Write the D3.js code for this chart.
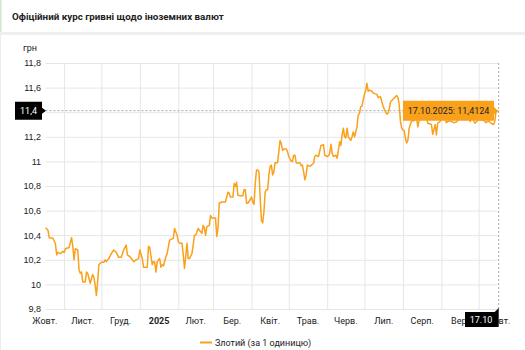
<!DOCTYPE html>
<meta charset="utf-8">
<style>
	body{ margin:0; background:#fff; }
	svg{ display:block; font-family: Roboto, "Noto Sans", sans-serif; }
	.grid line{ stroke:#e6e6e6; stroke-width:1; }
	.grid path{ display:none; }
	.ylab text, .xlab{ font-size:9px; fill:#222; }
</style>
<body>
<svg width="525" height="350" id="chart"></svg>
<script src="https://cdn.jsdelivr.net/npm/d3@7"></script>
<script>
	/* days since 17.10.2024 and official PLN rate */
	var dayOffsets = [0,2,3,6,8,9,10,12,14,15,16,19,21,22,23,24,26,27,28,29,30,32,33,34,36,38,39,40,41,42,
		43,45,47,48,49,51,53,55,57,58,59,61,62,63,65,66,68,70,71,73,75,76,78,79,82,83,84,86,87,88,
		89,90,92,93,94,95,97,98,100,102,103,104,106,107,108,110,111,112,113,114,115,116,118,119,120,121,123,124,126,127,
		128,129,130,132,133,134,137,138,139,140,142,145,146,147,148,149,151,152,153,154,155,157,159,160,161,162,163,165,166,167,
		168,169,170,171,172,173,174,175,176,177,178,179,180,181,182,183,184,185,187,188,189,190,191,192,194,195,196,198,199,200,
		201,202,203,205,206,207,208,209,210,211,213,216,217,218,220,222,224,225,227,228,229,230,231,232,234,235,237,238,239,240,
		241,242,243,244,246,247,248,249,250,251,252,253,254,255,256,257,258,259,260,261,263,264,267,268,270,271,272,274,275,276,
		277,278,280,282,283,284,285,286,287,288,289,290,291,292,293,294,295,297,299,300,301,303,305,307,308,311,312,314,315,316,
		318,320,322,323,325,327,329,331,333,335,338,341,342,344,346,348,349,353,355,357,359,361,362,363,365];
	var rates = [10.46,10.44,10.38,10.375,10.33,10.24,10.26,10.25,10.27,10.26,10.29,10.30,10.38,10.31,10.20,10.29,10.28,10.12,10.09,10.10,10.02,10.02,10.10,10.09,10.01,10.08,10.06,9.995,9.91,10.02,
		10.16,10.18,10.18,10.20,10.185,10.21,10.25,10.28,10.26,10.24,10.22,10.22,10.25,10.28,10.32,10.24,10.225,10.20,10.185,10.20,10.21,10.28,10.21,10.14,10.14,10.31,10.30,10.16,10.185,10.18,
		10.10,10.185,10.21,10.14,10.16,10.15,10.225,10.25,10.36,10.37,10.375,10.455,10.40,10.35,10.335,10.335,10.24,10.13,10.225,10.335,10.21,10.21,10.25,10.32,10.40,10.40,10.455,10.44,10.415,10.48,
		10.46,10.40,10.47,10.48,10.56,10.54,10.54,10.39,10.455,10.66,10.67,10.67,10.71,10.75,10.74,10.71,10.71,10.82,10.795,10.83,10.725,10.72,10.72,10.77,10.77,10.66,10.66,10.69,10.71,10.67,
		10.65,10.82,10.93,10.93,10.915,10.70,10.52,10.50,10.59,10.75,10.77,10.77,10.89,10.96,10.97,10.89,10.915,10.99,10.99,11.08,11.17,11.145,11.09,11.10,11.10,11.08,11.04,11.00,11.00,11.05,
		11.05,10.99,10.985,10.99,10.965,10.97,10.915,10.85,10.89,10.97,10.96,10.985,11.04,11.05,11.04,11.13,11.135,11.05,11.04,11.045,11.065,11.14,11.065,11.04,11.05,11.025,11.16,11.13,11.215,11.27,
		11.20,11.19,11.27,11.20,11.17,11.20,11.24,11.20,11.24,11.28,11.38,11.39,11.445,11.45,11.50,11.545,11.58,11.635,11.57,11.58,11.57,11.555,11.545,11.52,11.525,11.485,11.45,11.40,11.385,11.39,
		11.43,11.485,11.505,11.525,11.535,11.52,11.46,11.325,11.27,11.255,11.25,11.19,11.15,11.17,11.27,11.30,11.33,11.33,11.35,11.28,11.33,11.37,11.39,11.36,11.31,11.30,11.22,11.30,11.215,11.31,
		11.325,11.36,11.34,11.315,11.33,11.325,11.315,11.32,11.34,11.37,11.36,11.38,11.325,11.35,11.31,11.33,11.34,11.335,11.315,11.33,11.31,11.30,11.325,11.405,11.4124];

	var yTicks = [9.8,10,10.2,10.4,10.6,10.8,11,11.2,11.4,11.6,11.8];
	var monthLabels = ["Жовт.","Лист.","Груд.","2025","Лют.","Бер.","Квіт.","Трав.","Черв.","Лип.","Серп.","Вер.","Жовт."];
	var startDate = new Date(2024, 9, 17), endDate = new Date(2025, 9, 17);
	var seriesName = "Злотий (за 1 одиницю)";
	var title = "Офіційний курс гривні щодо іноземних валют";

	var lineColor = "#f9a11b";
	var plotL = 45.5, plotR = 498.5, plotT = 63, plotB = 309;

	var svg = d3.select("#chart");
	var uk = d3.formatLocale({decimal:",", thousands:" ", grouping:[3], currency:["",""]});
	var fmtTick = uk.format("~g"), fmtVal = uk.format(".4f");

	var x = d3.scaleTime().domain([startDate, endDate]).range([plotL, plotR]);
	var y = d3.scaleLinear().domain([9.8, 11.8]).range([plotB, plotT]);

	var data = dayOffsets.map(function(d, i){ return {date: d3.timeDay.offset(startDate, d), v: rates[i]}; });

	/* header */
	svg.append("rect").attr("x",0).attr("y",0).attr("width",525).attr("height",350).attr("fill","#fff");
	svg.append("rect").attr("x",0).attr("y",32).attr("width",525).attr("height",3).attr("fill","#efefef");
	svg.append("rect").attr("x",0).attr("y",0).attr("width",1.5).attr("height",32).attr("fill","#cfe6d2");
	svg.append("rect").attr("x",0).attr("y",35).attr("width",1).attr("height",315).attr("fill","#ececec");
	svg.append("text").attr("x",12).attr("y",20).attr("font-size","9.8px").attr("font-weight","bold")
		.attr("fill","#222").text(title);

	/* grid */
	svg.append("g").attr("class","grid").attr("transform","translate("+plotL+",0)")
		.call(d3.axisLeft(y).tickValues(yTicks).tickSize(-(plotR-plotL+0.5)).tickFormat(""));
	var months = d3.timeMonth.range(d3.timeMonth.ceil(startDate), endDate);
	svg.append("g").attr("class","grid").attr("transform","translate(0,"+plotB+")")
		.call(d3.axisBottom(x).tickValues(months).tickSize(-(plotB-plotT)).tickFormat(""));

	/* y labels */
	svg.append("g").attr("class","ylab").attr("transform","translate(41,0)")
		.call(d3.axisLeft(y).tickValues(yTicks).tickSize(0).tickPadding(0).tickFormat(fmtTick))
		.call(function(g){ g.select(".domain").remove(); g.selectAll("text").attr("font-family",null).attr("font-size",null); });
	svg.append("text").attr("class","xlab").attr("x",23).attr("y",51).text("грн");

	/* x labels centred in month cells */
	var cells = d3.timeMonth.range(d3.timeMonth.floor(startDate), endDate);
	svg.selectAll("text.mlab").data(cells).enter().append("text")
		.attr("class","xlab mlab")
		.attr("x", function(d){ return (x(d) + x(d3.timeMonth.offset(d,1)))/2; })
		.attr("y", 324).attr("text-anchor","middle")
		.attr("font-weight", function(d, i){ return monthLabels[i] === "2025" ? "bold" : null; })
		.text(function(d, i){ return monthLabels[i]; });

	/* line */
	svg.append("path").datum(data)
		.attr("fill","none").attr("stroke",lineColor).attr("stroke-width",1.5).attr("stroke-linejoin","round")
		.attr("d", d3.line().x(function(d){ return x(d.date); }).y(function(d){ return y(d.v); }));

	/* cursor */
	var last = data[data.length-1];
	var cx = x(last.date) + 0.2, cy = y(last.v);
	svg.append("line").attr("x1",plotL).attr("x2",plotR).attr("y1",cy).attr("y2",cy)
		.attr("stroke","#aaa").attr("stroke-dasharray","2,2");
	svg.append("line").attr("x1",cx).attr("x2",cx).attr("y1",plotT).attr("y2",plotB+2)
		.attr("stroke","#aaa").attr("stroke-dasharray","2,2");

	/* y cursor label */
	svg.append("path").attr("fill","#000")
		.attr("d","M15,"+(cy-9)+"H42V"+(cy-3)+"L46,"+cy+"L42,"+(cy+3)+"V"+(cy+9)+"H15Z");
	svg.append("text").attr("x",28.5).attr("y",cy+3.5).attr("text-anchor","middle")
		.attr("font-size","9px").attr("fill","#fff").text(fmtTick(Math.round(last.v*10)/10));

	/* x cursor label */
	svg.append("path").attr("fill","#000")
		.attr("d","M465,312H"+(cx-4)+"L"+cx+",308V327H465Z");
	svg.append("text").attr("x",481).attr("y",323).attr("text-anchor","middle")
		.attr("font-size","9px").attr("fill","#fff").text(d3.timeFormat("%d.%m")(last.date));

	/* value tooltip */
	svg.append("path").attr("fill",lineColor)
		.attr("d","M403,"+(cy-10)+"H494V"+(cy-4)+"L"+(cx-1)+","+cy+"L494,"+(cy+4)+"V"+(cy+10)+"H403Z");
	svg.append("text").attr("x",448.5).attr("y",cy+3.5).attr("text-anchor","middle")
		.attr("font-size","9px").attr("fill","#222")
		.text(d3.timeFormat("%d.%m.%Y")(last.date) + ": " + fmtVal(last.v));

	/* legend */
	svg.append("line").attr("x1",200).attr("x2",212).attr("y1",342.5).attr("y2",342.5)
		.attr("stroke",lineColor).attr("stroke-width",2);
	svg.append("text").attr("x",215).attr("y",345.5).attr("font-size","9px").attr("fill","#222").text(seriesName);
</script>
</body>
